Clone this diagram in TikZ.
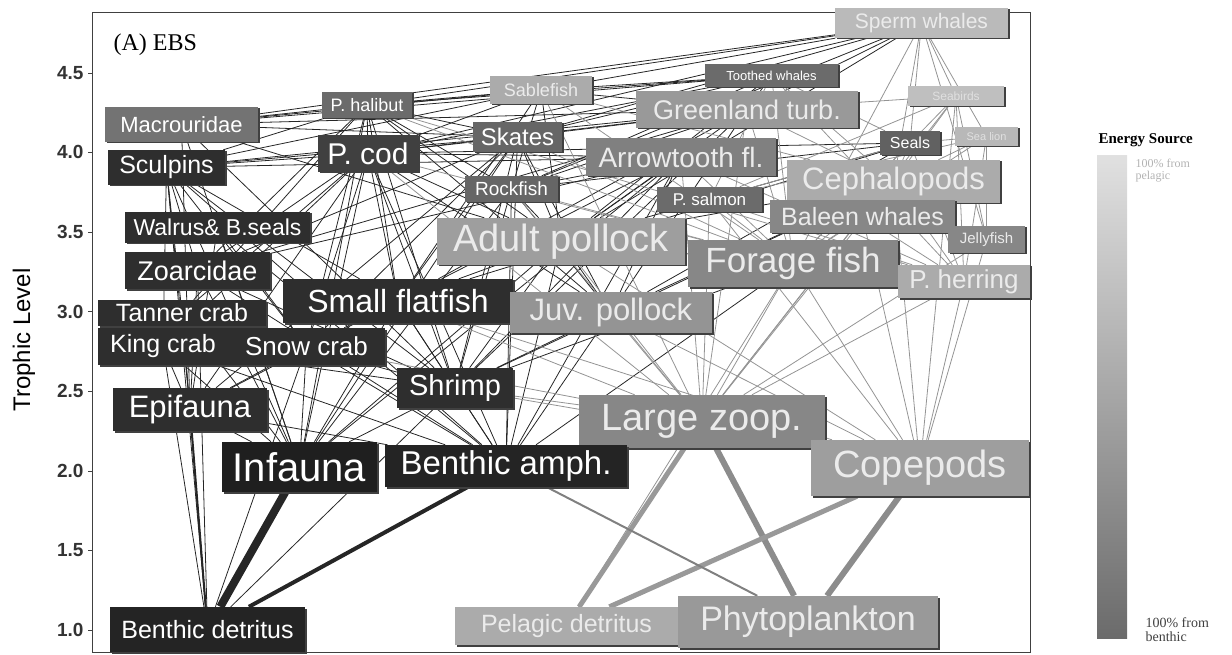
\documentclass[tikz,border=0pt]{standalone}
\usepackage{fontspec}
\usepackage{tikz}
\usetikzlibrary{shadows}
\newfontfamily\sansf{Liberation Sans}
\newfontfamily\serff{Liberation Serif}
\newcommand\fsz[1]{\fontsize{#1}{#1}\selectfont}
\pgfdeclarelayer{bg}
\pgfsetlayers{bg,main}
\tikzset{
  grp/.style n args={3}{rectangle, inner sep=0pt, text=white, fill=black!#1,
    minimum width=#2, minimum height=#3,
    drop shadow={shadow xshift=1.5pt, shadow yshift=-1.5pt, fill=black!75, opacity=1}},
  blink/.style={draw=black!85, line width=0.8pt},
  plink/.style={draw=black!42, line width=0.8pt},
  tick/.style={font=\sansf\bfseries\fsz{19}, anchor=east, text=black!80}
}

\begin{document}
\begin{tikzpicture}[x=1pt, y=-1pt]
\useasboundingbox (0,0) rectangle (1232,655);

% frame and axis
\draw[black!75, line width=0.8pt] (92,12) rectangle (1030,652);
\foreach \v/\yy in {1.0/630, 1.5/550.4, 2.0/470.8, 2.5/391.2, 3.0/311.6, 3.5/232, 4.0/152.4, 4.5/72.8}
  {\draw[black!75] (88,\yy) -- (92,\yy);
   \node[tick] at (87,\yy) {\v};}
\node[font=\sansf\fsz{24}, rotate=90] at (24,340) {Trophic Level};
\node[font=\serff\fsz{24}, anchor=west] at (110,45) {(A) EBS};

% groups, top to bottom
\node[grp={27}{173}{30}, font=\sansf\fsz{21}, text=black!8] (sperm)        at (921.5,23)  {Sperm whales};
\node[grp={58}{133}{23}, font=\sansf\fsz{13}]               (toothed)      at (771.5,75.5){Toothed whales};
\node[grp={33}{102}{28}, font=\sansf\fsz{18}, text=black!8] (sablefish)    at (541,90)    {Sablefish};
\node[grp={58}{90}{26},  font=\sansf\fsz{18}]               (phalibut)     at (367,105)   {P. halibut};
\node[grp={55}{153}{35}, font=\sansf\fsz{22}]               (macro)        at (181.5,124.5){Macrouridae};
\node[grp={40}{222}{37}, font=\sansf\fsz{27}, text=black!8] (greenland)    at (747,109.5) {Greenland turb.};
\node[grp={25}{96}{20},  font=\sansf\fsz{12}, text=black!12](seabirds)     at (956,96)    {Seabirds};
\node[grp={60}{89}{30},  font=\sansf\fsz{24}]               (skates)       at (517.5,137) {Skates};
\node[grp={75}{100}{37}, font=\sansf\fsz{30}]               (pcod)         at (368,153.5) {P. cod};
\node[grp={82}{117}{35}, font=\sansf\fsz{25}]               (sculpins)     at (166.5,167.5){Sculpins};
\node[grp={50}{190}{38}, font=\sansf\fsz{28}, text=black!8] (arrowtooth)   at (681,157)   {Arrowtooth fl.};
\node[grp={62}{60}{24},  font=\sansf\fsz{16}]               (seals)        at (910,143)   {Seals};
\node[grp={28}{63}{19},  font=\sansf\fsz{11}, text=black!12](sealion)      at (986.5,136.5){Sea lion};
\node[grp={33}{213}{43}, font=\sansf\fsz{31}, text=black!8] (cephalopods)  at (893.5,181.5){Cephalopods};
\node[grp={60}{93}{26},  font=\sansf\fsz{19}]               (rockfish)     at (511.5,189) {Rockfish};
\node[grp={58}{105}{25}, font=\sansf\fsz{17}]               (psalmon)      at (709.5,199.5){P. salmon};
\node[grp={47}{185}{33}, font=\sansf\fsz{25}, text=black!8] (baleen)       at (862.5,216.5){Baleen whales};
\node[grp={82}{185}{31}, font=\sansf\fsz{23}]               (walrus)       at (217.5,227.5){Walrus\& B.seals};
\node[grp={38}{248}{47}, font=\sansf\fsz{38}, text=black!8] (adultpollock) at (561,241.5) {Adult pollock};
\node[grp={47}{77}{27},  font=\sansf\fsz{15}, text=black!8] (jellyfish)    at (986.5,239.5){Jellyfish};
\node[grp={47}{210}{47}, font=\sansf\fsz{35}, text=black!8] (forage)       at (793,263.5) {Forage fish};
\node[grp={82}{145}{37}, font=\sansf\fsz{27}]               (zoarcidae)    at (197.5,270.5){Zoarcidae};
\node[grp={33}{132}{33}, font=\sansf\fsz{26}, text=black!8] (pherring)     at (964,281.5) {P. herring};
\node[grp={82}{230}{44}, font=\sansf\fsz{32}]               (smallflat)    at (398,301)   {Small flatfish};
\node[grp={82}{168}{26}, font=\sansf\fsz{25}]               (tanner)       at (182,313)   {Tanner crab};
\node[grp={42}{202}{41}, font=\sansf\fsz{31}, text=black!8] (juvpollock)   at (611,312.5) {Juv. pollock};
\node[grp={82}{130}{37}, font=\sansf\fsz{25}]               (kingcrab)     at (163,346.5) {King crab};
\node[grp={82}{157}{37}, font=\sansf\fsz{26}]               (snowcrab)     at (306.5,346.5){Snow crab};
\node[grp={82}{116}{40}, font=\sansf\fsz{29}]               (shrimp)       at (455,388)   {Shrimp};
\node[grp={82}{154}{43}, font=\sansf\fsz{31}]               (epifauna)     at (190,409.5) {Epifauna};
\node[grp={47}{246}{53}, font=\sansf\fsz{38}, text=black!8] (largezoop)    at (702,421.5) {Large zoop.};
\node[grp={88}{155}{50}, font=\sansf\fsz{40}]               (infauna)      at (299.5,467) {Infauna};
\node[grp={86}{242}{42}, font=\sansf\fsz{33}]               (benthicamph)  at (506,466)   {Benthic amph.};
\node[grp={38}{218}{56}, font=\sansf\fsz{38}, text=black!8] (copepods)     at (920,468)   {Copepods};
\node[grp={86}{195}{45}, font=\sansf\fsz{25}]               (benthicdet)   at (207.5,629.5){Benthic detritus};
\node[grp={33}{223}{38}, font=\sansf\fsz{25}, text=black!8] (pelagicdet)   at (566.5,626) {Pelagic detritus};
\node[grp={40}{260}{52}, font=\sansf\fsz{34}, text=black!8] (phyto)        at (808,622)   {Phytoplankton};

% feeding links, behind the boxes
\begin{pgfonlayer}{bg}
\foreach \a/\b in {infauna/sculpins, infauna/walrus, infauna/zoarcidae, infauna/tanner, infauna/kingcrab,
    infauna/snowcrab, infauna/smallflat, infauna/pcod, infauna/macro, infauna/skates, infauna/epifauna,
    infauna/shrimp, infauna/adultpollock, infauna/phalibut, infauna/arrowtooth, infauna/rockfish,
    epifauna/sculpins, epifauna/walrus, epifauna/zoarcidae, epifauna/tanner, epifauna/kingcrab,
    epifauna/snowcrab, epifauna/smallflat, epifauna/pcod, epifauna/skates, epifauna/macro,
    benthicamph/smallflat, benthicamph/shrimp, benthicamph/juvpollock, benthicamph/pcod,
    benthicamph/sculpins, benthicamph/zoarcidae, benthicamph/walrus, benthicamph/kingcrab,
    benthicamph/snowcrab, benthicamph/adultpollock, benthicamph/forage, benthicamph/skates,
    benthicamph/arrowtooth, benthicamph/rockfish, benthicamph/epifauna,
    shrimp/smallflat, shrimp/pcod, shrimp/adultpollock, shrimp/juvpollock, shrimp/sculpins,
    shrimp/zoarcidae, shrimp/arrowtooth, shrimp/greenland, shrimp/skates, shrimp/phalibut,
    shrimp/rockfish, shrimp/macro, shrimp/cephalopods, shrimp/forage, shrimp/tanner, shrimp/kingcrab,
    snowcrab/pcod, snowcrab/phalibut, snowcrab/sculpins, snowcrab/skates, snowcrab/smallflat, snowcrab/walrus,
    kingcrab/pcod, kingcrab/sculpins, tanner/pcod, tanner/phalibut, tanner/sculpins,
    smallflat/pcod, smallflat/phalibut, smallflat/skates, smallflat/arrowtooth, smallflat/greenland,
    smallflat/sablefish, smallflat/seals, smallflat/adultpollock, smallflat/sculpins,
    zoarcidae/pcod, zoarcidae/phalibut, zoarcidae/skates, zoarcidae/sculpins, zoarcidae/arrowtooth, zoarcidae/greenland,
    sculpins/pcod, sculpins/phalibut, sculpins/skates, sculpins/sablefish, sculpins/greenland, sculpins/arrowtooth,
    pcod/phalibut, pcod/skates, pcod/sablefish, pcod/greenland, pcod/seals, pcod/toothed, pcod/sperm, pcod/arrowtooth,
    macro/sperm, macro/greenland, macro/sablefish, macro/skates, macro/phalibut, macro/toothed,
    skates/sperm, skates/greenland, skates/toothed, skates/phalibut,
    rockfish/sperm, rockfish/toothed, rockfish/phalibut, rockfish/sablefish, rockfish/greenland,
    rockfish/arrowtooth, rockfish/seals,
    sablefish/sperm, sablefish/toothed, sablefish/greenland, sablefish/phalibut,
    phalibut/sperm, phalibut/toothed, greenland/sperm, greenland/toothed,
    adultpollock/pcod, adultpollock/phalibut, adultpollock/skates, adultpollock/sablefish,
    adultpollock/greenland, adultpollock/arrowtooth, adultpollock/seals, adultpollock/sperm,
    adultpollock/toothed, adultpollock/cephalopods, adultpollock/macro, adultpollock/rockfish,
    juvpollock/adultpollock, juvpollock/pcod, juvpollock/arrowtooth, juvpollock/greenland,
    juvpollock/phalibut, juvpollock/seals, juvpollock/cephalopods, juvpollock/skates, juvpollock/rockfish,
    benthicdet/epifauna, benthicdet/tanner, benthicdet/sculpins, benthicdet/snowcrab,
    benthicdet/shrimp, benthicdet/kingcrab, benthicdet/zoarcidae}
  \draw[blink] (\a) -- (\b);
\foreach \a/\b in {copepods/forage, copepods/pherring, copepods/jellyfish, copepods/baleen,
    copepods/juvpollock, copepods/largezoop, copepods/cephalopods, copepods/psalmon, copepods/seabirds,
    copepods/adultpollock, copepods/smallflat, copepods/shrimp,
    largezoop/forage, largezoop/juvpollock, largezoop/adultpollock, largezoop/pherring, largezoop/baleen,
    largezoop/jellyfish, largezoop/cephalopods, largezoop/psalmon, largezoop/rockfish, largezoop/shrimp,
    largezoop/smallflat, largezoop/arrowtooth, largezoop/greenland, largezoop/pcod, largezoop/seabirds,
    largezoop/benthicamph, largezoop/sablefish, largezoop/snowcrab,
    forage/adultpollock, forage/arrowtooth, forage/greenland, forage/cephalopods, forage/seals,
    forage/sealion, forage/seabirds, forage/baleen, forage/psalmon, forage/pcod, forage/phalibut,
    forage/sablefish, forage/toothed, forage/sperm, forage/rockfish, forage/skates,
    pherring/seals, pherring/sealion, pherring/seabirds, pherring/cephalopods, pherring/baleen,
    pherring/adultpollock, pherring/arrowtooth, pherring/phalibut, pherring/toothed, pherring/psalmon,
    jellyfish/seabirds, jellyfish/sealion, jellyfish/sperm,
    cephalopods/sperm, cephalopods/toothed, cephalopods/seals, cephalopods/sealion, cephalopods/seabirds,
    cephalopods/greenland, cephalopods/sablefish,
    seals/sperm, seals/toothed, sealion/sperm, seabirds/sperm, psalmon/seals, psalmon/sealion,
    psalmon/toothed, psalmon/seabirds, seals/sealion, seabirds/greenland, pelagicdet/forage}
  \draw[plink] (\a) -- (\b);
% heavy flows at the base
\draw[blink, line width=8pt] (benthicdet) -- (infauna);
\draw[blink, line width=4pt] (benthicdet) -- (benthicamph);
\draw[blink, line width=2pt] (benthicdet) -- (epifauna);
\draw[plink, draw=black!45, line width=6pt] (phyto) -- (copepods);
\draw[plink, draw=black!45, line width=6pt] (phyto) -- (largezoop);
\draw[plink, draw=black!40, line width=5pt] (pelagicdet) -- (copepods);
\draw[plink, draw=black!40, line width=5pt] (pelagicdet) -- (largezoop);
\draw[plink, draw=black!50, line width=2pt] (phyto) -- (benthicamph);
\end{pgfonlayer}

% legend
\node[font=\serff\bfseries\fsz{15}, anchor=west] (esrc) at (1095,140) {Energy Source};
\shade[top color=black!12, bottom color=black!58] (1097,156) rectangle (1127,638);
\node[font=\serff\fsz{12}, text=black!30, anchor=north west, align=left] (pel) at (1132,156) {100\% from\\pelagic};
\node[font=\serff\fsz{14}, text=black!75, anchor=south west, align=left] (ben) at (1142,645) {100\% from\\benthic};
\end{tikzpicture}
\end{document}
